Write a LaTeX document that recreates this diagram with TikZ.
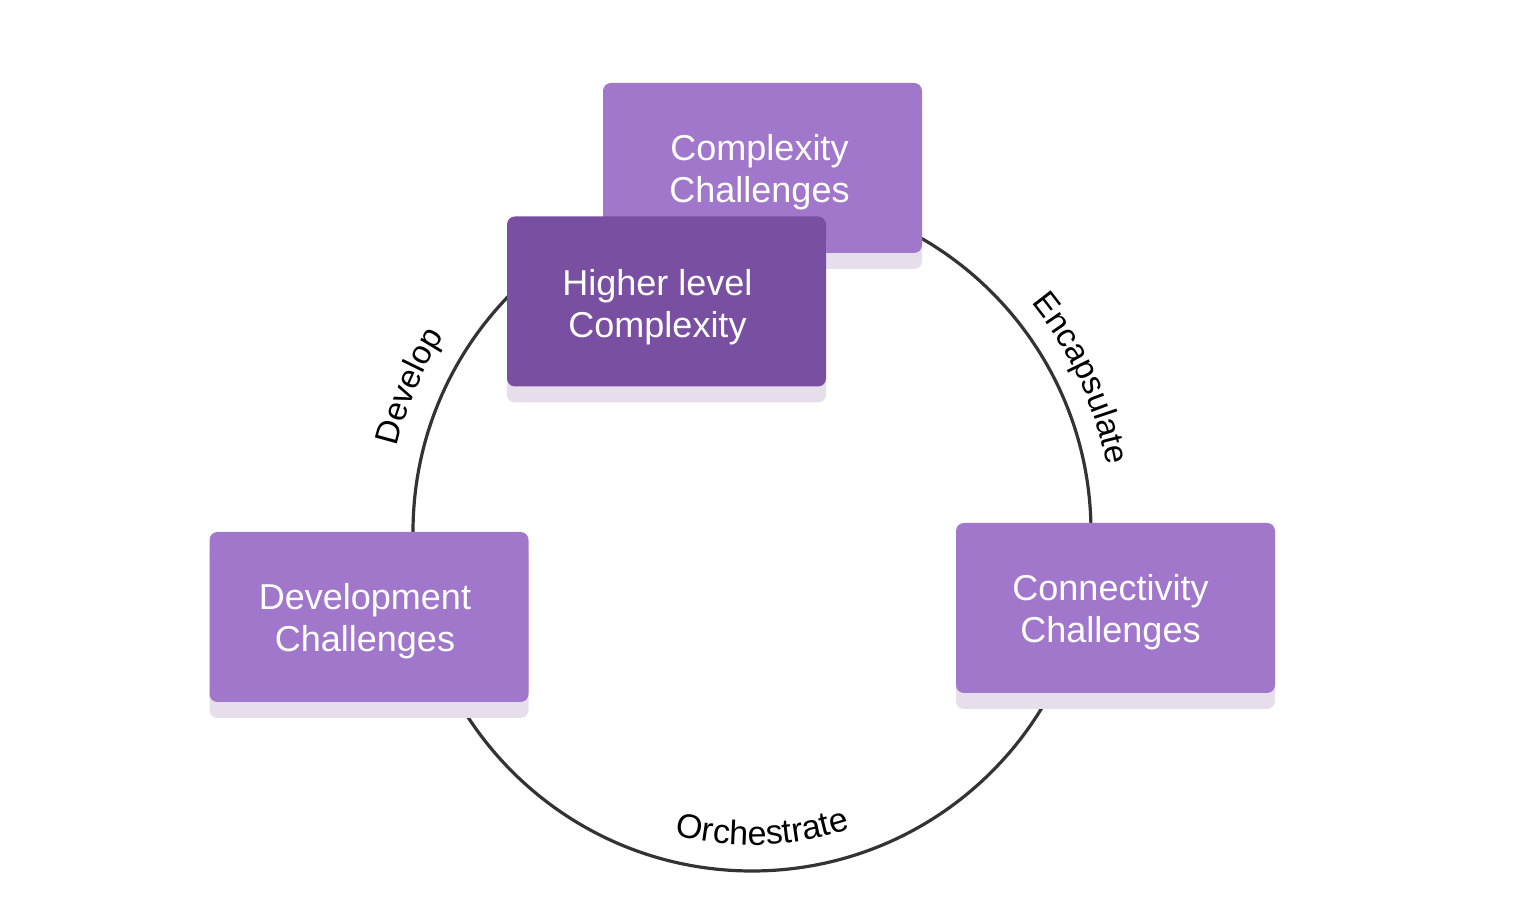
\documentclass[tikz,border=0pt]{standalone}
\usepackage{fontspec}
\setmainfont{Liberation Sans}
\usetikzlibrary{shadows,decorations.text}
\definecolor{boxlight}{HTML}{A077CB}
\definecolor{boxdark}{HTML}{784FA1}
\definecolor{boxshadow}{HTML}{E6DEEA}
\definecolor{ringcol}{HTML}{333333}
\tikzset{
  card/.style={rectangle, rounded corners=8pt, minimum width=319pt, minimum height=170pt,
    inner sep=0pt, general shadow={fill=boxshadow, shadow yshift=-16pt}},
  lightcard/.style={card, fill=boxlight},
  darkcard/.style={card, fill=boxdark},
  cardtext/.style={inner sep=0pt, text=white, align=center, font=\fontsize{36}{42}\selectfont},
  ring/.style={draw=ringcol, line width=3.2pt},
  arclabel/.style={decorate, decoration={text along path, text align=center, text color=black}}
}
\begin{document}
\begin{tikzpicture}[x=1pt,y=1pt]
\useasboundingbox (0,0) rectangle (1528,912);
\coordinate (c) at (752,380);
\draw[ring] (c) circle[radius=339pt];

\path[arclabel, decoration={text={|\fontsize{33}{33}\selectfont|Develop}}]
  (c) ++(177:365pt) arc[start angle=177, end angle=137, radius=365pt];
\path[arclabel, decoration={text={|\fontsize{33}{33}\selectfont|Encapsulate}}]
  (c) ++(55:361pt) arc[start angle=55, end angle=-5, radius=361pt];
\path[arclabel, decoration={text={|\fontsize{34}{34}\selectfont|Orchestrate}}]
  (c) ++(242:313pt) arc[start angle=242, end angle=302, radius=313pt];

\node[lightcard] (complex) at (762.5,744) {};
\node[cardtext] (complex-t) at ([shift={(-3,-4)}]complex.center) {Complexity\\Challenges};
\node[darkcard] (higher) at (666.5,610.5) {};
\node[cardtext] (higher-t) at ([shift={(-9,-6)}]higher.center) {Higher level\\Complexity};
\node[lightcard] (devel) at (369,295) {};
\node[cardtext] (devel-t) at ([shift={(-4,-4)}]devel.center) {Development\\Challenges};
\node[lightcard] (conn) at (1115.5,304) {};
\node[cardtext] (conn-t) at ([shift={(-5,-4)}]conn.center) {Connectivity\\Challenges};
\end{tikzpicture}
\end{document}
